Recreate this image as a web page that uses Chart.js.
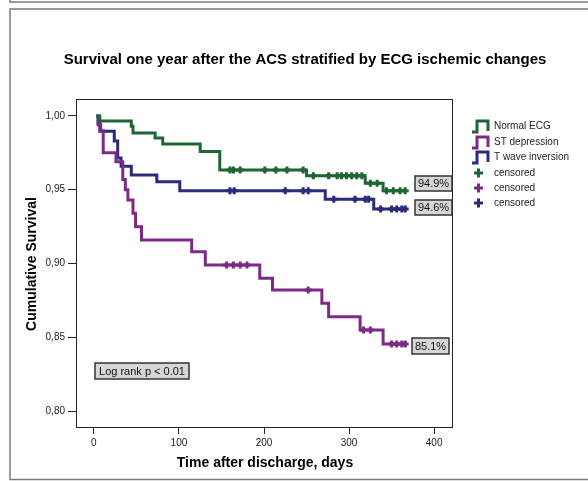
<!DOCTYPE html>
<html>
<head>
<meta charset="utf-8">
<title>Survival one year after the ACS</title>
<script src="https://cdn.jsdelivr.net/npm/chart.js@4.4.1/dist/chart.umd.min.js"></script>
<style>
  html, body { margin: 0; padding: 0; background: #fff; }
  #grafico { display: block; }
</style>
</head>
<body>
<canvas id="grafico" width="588" height="481"></canvas>
<script>
const normalTiempos = [3, 7, 44, 46, 72, 81, 125, 148, 250, 319, 340, 368];
const normalSurv = [1.0, 0.9966, 0.993, 0.9885, 0.985, 0.981, 0.976, 0.9634, 0.9595, 0.9544, 0.9494, 0.9494];
const normalCensor = [160, 164, 172, 201, 214, 227, 246, 258, 276, 286, 291, 297, 303, 309, 315, 325, 333, 344, 352, 360, 366];

const stTiempos = [3, 5, 8, 11, 26, 34, 37, 40, 46, 49, 56, 115, 131, 195, 210, 268, 276, 313, 340, 368];
const stSurv = [1.0, 0.994, 0.99, 0.975, 0.969, 0.957, 0.950, 0.943, 0.934, 0.925, 0.916, 0.908, 0.899, 0.890, 0.882, 0.873, 0.864, 0.855, 0.8454, 0.8454];
const stCensor = [156, 164, 172, 180, 252, 317, 325, 350, 356, 362, 366];

const tTiempos = [3, 5, 7, 24, 28, 32, 44, 74, 101, 272, 329, 368];
const tSurv = [1.0, 0.995, 0.9896, 0.983, 0.9715, 0.966, 0.960, 0.9555, 0.9494, 0.9436, 0.937, 0.937];
const tCensor = [160, 165, 225, 246, 252, 282, 307, 319, 323, 337, 350, 356, 362, 366];

const etiquetasLeyenda = ['Normal ECG', 'ST depression', 'T wave inversion', 'censored', 'censored', 'censored'];
const ticksY = [0.80, 0.85, 0.90, 0.95, 1.00];
const ticksX = [0, 100, 200, 300, 400];
const etiquetasFinales = ['94.9%', '94.6%', '85.1%'];
const textoLogRank = 'Log rank p < 0.01';

const verde = '#1e6634';
const morado = '#7d2a86';
const azul = '#2b2b7c';

// Convierte los arrays en puntos {x, y}
function puntos(tiempos, surv) {
    return tiempos.map((t, i) => ({ x: t, y: surv[i] }));
}

// Valor de la curva escalonada en un tiempo dado
function valorEn(tiempos, surv, t) {
    let v = surv[0];
    for (let i = 0; i < tiempos.length; i++) {
        if (tiempos[i] <= t) v = surv[i];
    }
    return v;
}

function puntosCensura(censor, tiempos, surv) {
    return censor.map(t => ({ x: t, y: valorEn(tiempos, surv, t) }));
}

function lineaKM(label, data, color) {
    return {
        label: label,
        data: data,
        borderColor: color,
        backgroundColor: color,
        borderWidth: 3,
        stepped: 'before',
        pointRadius: 0,
        fill: false
    };
}

function censura(data, color) {
    return {
        label: 'censored',
        data: data,
        showLine: false,
        pointStyle: 'cross',
        pointRadius: 3.5,
        pointBorderWidth: 3,
        borderColor: color,
        backgroundColor: color
    };
}

const fuente = '"Liberation Sans", Arial, sans-serif';

// Marcos, títulos, leyenda y etiquetas dibujados a mano
const decoracion = {
    id: 'decoracion',
    beforeDraw(chart) {
        const ctx = chart.ctx;
        ctx.save();
        ctx.fillStyle = '#fff';
        ctx.fillRect(0, 0, chart.width, chart.height);
        ctx.strokeStyle = '#7a7a7a';
        ctx.lineWidth = 1.5;
        ctx.beginPath();
        ctx.moveTo(10, 0); ctx.lineTo(10, 2); ctx.lineTo(588, 2);
        ctx.moveTo(588, 9); ctx.lineTo(10, 9); ctx.lineTo(10, 479.5); ctx.lineTo(588, 479.5);
        ctx.stroke();
        ctx.restore();
    },
    afterDraw(chart) {
        const ctx = chart.ctx;
        const a = chart.chartArea;
        ctx.save();
        // marco del área del gráfico
        ctx.strokeStyle = '#222';
        ctx.lineWidth = 1;
        ctx.strokeRect(a.left + 0.5, a.top + 0.5, a.right - a.left, a.bottom - a.top);

        // títulos
        ctx.fillStyle = '#000';
        ctx.textAlign = 'center';
        ctx.textBaseline = 'middle';
        ctx.font = 'bold 15px ' + fuente;
        ctx.fillText('Survival one year after the ACS stratified by ECG ischemic changes', 305, 60);
        ctx.font = 'bold 14px ' + fuente;
        ctx.fillText('Time after discharge, days', 265, 463);
        ctx.save();
        ctx.translate(32, 264);
        ctx.rotate(-Math.PI / 2);
        ctx.fillText('Cumulative Survival', 0, 0);
        ctx.restore();

        // leyenda
        const colores = [verde, morado, azul, verde, morado, azul];
        const filas = [126, 142, 157, 173, 188, 203];
        ctx.textAlign = 'left';
        ctx.font = '10px ' + fuente;
        etiquetasLeyenda.forEach((txt, i) => {
            const y = filas[i];
            ctx.strokeStyle = colores[i];
            ctx.lineWidth = 3;
            ctx.beginPath();
            if (i < 3) {
                ctx.moveTo(472, y + 6);
                ctx.lineTo(477, y + 6);
                ctx.lineTo(477, y - 5);
                ctx.lineTo(488, y - 5);
                ctx.lineTo(488, y + 5);
            } else {
                ctx.moveTo(474, y); ctx.lineTo(483, y);
                ctx.moveTo(478.5, y - 4.5); ctx.lineTo(478.5, y + 4.5);
            }
            ctx.stroke();
            ctx.fillStyle = '#222';
            ctx.fillText(txt, 494, y);
        });

        // cajas de etiquetas
        const cajas = [
            [etiquetasFinales[0], 415, 176, 37, 15],
            [etiquetasFinales[1], 415, 200, 37, 15],
            [etiquetasFinales[2], 412, 338, 37, 16],
            [textoLogRank, 95, 363, 94, 16]
        ];
        ctx.font = '11px ' + fuente;
        ctx.textAlign = 'center';
        cajas.forEach(([txt, x, y, w, h]) => {
            ctx.fillStyle = '#d6d6d6';
            ctx.fillRect(x, y, w, h);
            ctx.strokeStyle = '#333';
            ctx.lineWidth = 1.5;
            ctx.strokeRect(x, y, w, h);
            ctx.fillStyle = '#111';
            ctx.fillText(txt, x + w / 2, y + h / 2 + 0.5);
        });
        ctx.restore();
    }
};

const ctx = document.getElementById('grafico').getContext('2d');
new Chart(ctx, {
    type: 'line',
    data: {
        datasets: [
            lineaKM('Normal ECG', puntos(normalTiempos, normalSurv), verde),
            lineaKM('ST depression', puntos(stTiempos, stSurv), morado),
            lineaKM('T wave inversion', puntos(tTiempos, tSurv), azul),
            censura(puntosCensura(normalCensor, normalTiempos, normalSurv), verde),
            censura(puntosCensura(stCensor, stTiempos, stSurv), morado),
            censura(puntosCensura(tCensor, tTiempos, tSurv), azul)
        ]
    },
    options: {
        responsive: false,
        animation: false,
        layout: { padding: { left: 0, top: 99, right: 136, bottom: 0 } },
        plugins: {
            legend: { display: false },
            tooltip: { enabled: false },
            title: { display: false }
        },
        scales: {
            x: {
                type: 'linear',
                min: -21,
                max: 421,
                afterFit(scale) { scale.height = 54; },
                afterBuildTicks(scale) { scale.ticks = ticksX.map(v => ({ value: v })); },
                border: { display: false },
                grid: { drawOnChartArea: false, drawTicks: true, tickLength: 7, color: '#222', tickColor: '#222' },
                ticks: { padding: 3, color: '#222', font: { family: fuente, size: 10 }, maxRotation: 0 }
            },
            y: {
                min: 0.7892,
                max: 1.0115,
                afterFit(scale) { scale.width = 76; },
                afterBuildTicks(scale) { scale.ticks = ticksY.map(v => ({ value: v })); },
                border: { display: false },
                grid: { drawOnChartArea: false, drawTicks: true, tickLength: 8, color: '#222', tickColor: '#222' },
                ticks: {
                    padding: 3,
                    color: '#222',
                    font: { family: fuente, size: 10 },
                    callback: v => v.toFixed(2).replace('.', ',')
                }
            }
        }
    },
    plugins: [decoracion]
});
</script>
</body>
</html>
